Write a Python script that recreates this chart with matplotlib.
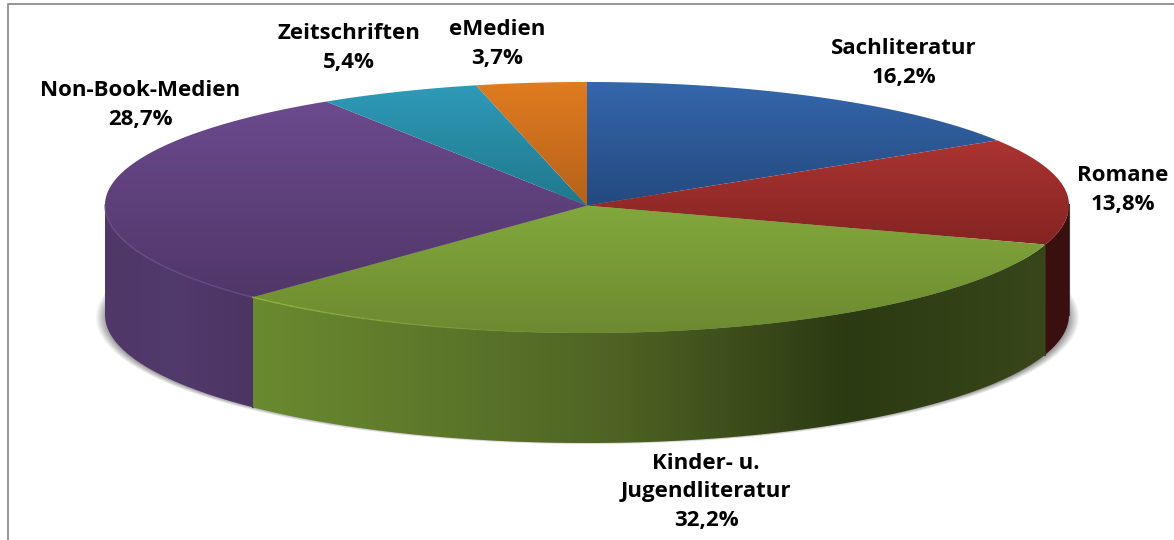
import numpy as np
import matplotlib
matplotlib.use("Agg")
import matplotlib.pyplot as plt
from matplotlib.colors import LinearSegmentedColormap
from matplotlib.patches import Polygon

categories = ["Sachliteratur", "Romane", "Kinder- u.\nJugendliteratur", "Non-Book-Medien", "Zeitschriften", "eMedien"]
values = [16.2, 13.8, 32.2, 28.7, 5.4, 3.7]
value_labels = ["16,2%", "13,8%", "32,2%", "28,7%", "5,4%", "3,7%"]

top_colors = [
    ("#3467ab", "#24497f"),
    ("#ab3432", "#842422"),
    ("#82a83c", "#6d8a30"),
    ("#6c4a8e", "#503668"),
    ("#2f9ab8", "#1f788c"),
    ("#e07b20", "#b5621a"),
]
label_pos = [(904, 63), (1123, 190), (706, 492), (140, 105), (349, 48), (497, 44)]

CX, CY_RIM, CY_HUB = 587, 205, 205.6
RX, RY_BACK, RY_FRONT = 482, 123, 128
WALL = 110


def rim(t):
    c = np.cos(t)
    y = CY_RIM - RY_BACK * c * (c > 0) - RY_FRONT * c * (c <= 0)
    return CX + RX * np.sin(t), y


def gradient(ax, patch, extent, stops, horizontal=False):
    cmap = LinearSegmentedColormap.from_list("g", stops)
    ramp = np.linspace(0, 1, 256)
    data = ramp[None, :] if horizontal else ramp[:, None]
    ax.add_patch(patch)
    patch.set_facecolor("none")
    patch.set_edgecolor("none")
    im = ax.imshow(data, cmap=cmap, extent=extent, aspect="auto", vmin=0, vmax=1, zorder=patch.get_zorder())
    im.set_clip_path(patch)


fig = plt.figure(figsize=(11.74, 5.4), dpi=100)
ax = fig.add_axes([0, 0, 1, 1])
ax.set_xlim(0, 1174)
ax.set_ylim(540, 0)
ax.axis("off")

# soft shadow under the pie
xx, yy = np.meshgrid(np.arange(80, 1100), np.arange(180, 470))
d = np.sqrt(((xx - CX) / 492) ** 2 + ((yy - 317) / 127) ** 2)
alpha = np.clip((1.0 - d) / 0.022, 0, 1) * 0.6
shadow = np.dstack([np.full(d.shape, 0.35)] * 3 + [alpha])
ax.imshow(shadow, extent=(80, 1100, 470, 180), aspect="auto", zorder=1)

edges = np.cumsum([0] + values) / sum(values) * 2 * np.pi

# side walls, only the front facing slices show one
wall_specs = {
    1: [(0, "#3a100f"), (1, "#3a100f")],
    2: [(0, "#6a8a2f"), (0.2, "#5f7a2b"), (0.45, "#4f6424"), (0.75, "#2c3a13"), (1, "#38461a")],
    3: [(0, "#4f3868"), (0.5, "#513a6c"), (1, "#4b3563")],
}
for i, stops in wall_specs.items():
    t = np.linspace(max(edges[i], np.pi / 2), min(edges[i + 1], 3 * np.pi / 2), 200)
    x, y = rim(t)
    # dark backing so the clipped walls leave no pale seam between them
    ax.plot([x[0], x[0]], [y[0], y[0] + WALL], color="#3f3a40", lw=1.5, zorder=2)
    pts = np.r_[np.c_[x, y], np.c_[x, y + WALL][::-1]]
    poly = Polygon(pts, closed=True, zorder=3)
    gradient(ax, poly, (x.min(), x.max(), 500, 100), stops, horizontal=True)

# top surface, one vertical gradient per slice
for i in range(len(values)):
    t = np.linspace(edges[i], edges[i + 1], 200)
    x, y = rim(t)
    pts = np.r_[[[CX, CY_HUB]], np.c_[x, y]]
    poly = Polygon(pts, closed=True, zorder=4)
    y0, y1 = pts[:, 1].min(), pts[:, 1].max()
    gradient(ax, poly, (pts[:, 0].min(), pts[:, 0].max(), y1, y0), [(0, top_colors[i][0]), (1, top_colors[i][1])])

# light bevel along the front rim, fading out towards the middle
x, y = rim(np.linspace(edges[3], 3 * np.pi / 2, 100))
ax.plot(x, y, color="#6a4c8c", lw=1.0, alpha=0.8, zorder=5)
steps = np.linspace(edges[3], 3.2, 21)
for k in range(20):
    x, y = rim(np.linspace(steps[k], steps[k + 1], 8))
    ax.plot(x, y, color="#93b845", lw=1.0, alpha=0.85 * (1 - k / 20), zorder=5)

for name, val, (lx, ly) in zip(categories, value_labels, label_pos):
    ax.text(lx, ly, f"{name}\n{val}", ha="center", va="center", family="Open Sans", weight="bold",
            fontsize=16, color="black", linespacing=1.45, zorder=6)

ax.plot([7.5, 7.5, 1174], [540, 4, 4], color="#8e8e8e", lw=1.3, zorder=7)

fig.savefig("out.png", dpi=100)
